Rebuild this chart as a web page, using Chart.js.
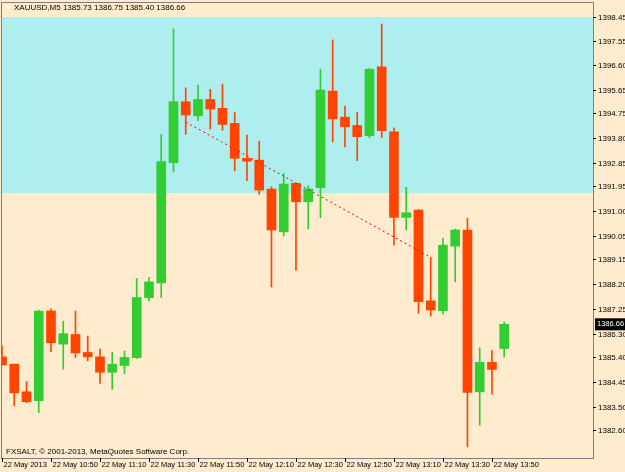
<!DOCTYPE html>
<html>
<head>
<meta charset="utf-8">
<script src="https://cdn.jsdelivr.net/npm/chart.js@4"></script>
<style>
  html, body { margin: 0; padding: 0; background: #FFEBCD; }
  #wrap { width: 625px; height: 472px; }
</style>
</head>
<body>
<div id="wrap"><canvas id="c" width="625" height="472"></canvas></div>
<script>
// ---------------- Data (XAUUSD M5, 22 May 2013, 10:30 .. 13:55) ----------------
const times = ["10:30","10:35","10:40","10:45","10:50","10:55","11:00","11:05","11:10","11:15",
  "11:20","11:25","11:30","11:35","11:40","11:45","11:50","11:55","12:00","12:05",
  "12:10","12:15","12:20","12:25","12:30","12:35","12:40","12:45","12:50","12:55",
  "13:00","13:05","13:10","13:15","13:20","13:25","13:30","13:35","13:40","13:45",
  "13:50","13:55"];
const opens  = [1385.41,1385.13,1384.07,1383.73,1387.17,1385.90,1386.27,1385.58,1385.41,1384.82,
  1385.08,1385.38,1387.68,1388.25,1392.86,1395.20,1394.66,1395.29,1394.95,1394.37,
  1393.03,1392.96,1391.85,1390.21,1392.07,1391.36,1391.90,1395.61,1394.61,1394.29,
  1393.90,1396.54,1394.05,1390.76,1391.04,1387.56,1387.18,1389.66,1390.28,1384.07,
  1385.20,1385.73];
const highs  = [1385.83,1385.13,1384.46,1387.20,1387.25,1386.78,1387.17,1386.21,1385.71,1385.58,
  1385.63,1388.42,1388.46,1393.95,1397.99,1395.74,1395.84,1395.68,1395.88,1394.79,
  1393.92,1393.69,1391.94,1392.45,1392.08,1391.97,1396.45,1397.57,1395.03,1394.79,
  1396.48,1398.18,1394.20,1391.92,1391.06,1389.23,1389.97,1390.32,1390.73,1385.76,
  1385.65,1386.75];
const lows   = [1385.10,1383.53,1383.65,1383.27,1385.61,1384.94,1385.38,1385.26,1384.39,1384.16,
  1384.76,1385.35,1387.55,1387.69,1392.51,1393.95,1394.47,1394.15,1394.11,1392.55,
  1392.17,1391.65,1388.09,1390.05,1388.74,1390.32,1390.75,1393.66,1393.47,1392.94,
  1393.82,1393.83,1389.70,1390.28,1387.08,1386.98,1387.05,1388.29,1381.96,1382.79,
  1383.98,1385.40];
const closes = [1385.10,1384.03,1383.69,1387.17,1385.95,1386.30,1385.56,1385.41,1384.82,1385.13,
  1385.39,1387.69,1388.29,1392.90,1395.20,1394.69,1395.29,1394.92,1394.33,1393.03,
  1392.92,1391.81,1390.28,1392.04,1391.36,1391.85,1395.65,1394.54,1394.24,1393.86,
  1396.45,1394.09,1390.76,1390.94,1387.53,1387.21,1389.70,1390.28,1384.05,1385.20,
  1384.93,1386.66];
const priceTicks = [1398.45,1397.55,1396.60,1395.65,1394.75,1393.80,1392.85,1391.95,1391.00,
  1390.05,1389.15,1388.20,1387.25,1386.30,1385.40,1384.45,1383.50,1382.60];
const timeLabels = ["22 May 2013","22 May 10:50","22 May 11:10","22 May 11:30","22 May 11:50",
  "22 May 12:10","22 May 12:30","22 May 12:50","22 May 13:10","22 May 13:30","22 May 13:50"];
const bandTop = 1398.45, bandBottom = 1391.70;
const trendFrom = [15, 1394.42], trendTo = [35, 1389.23];
const lastPrice = 1386.66;

const GREEN = "#32CD32", RED = "#FF4500";
const colors = opens.map((o, i) => closes[i] >= o ? GREEN : RED);
const FONT = "8px 'Liberation Sans'";

// ---------------- Helpers ----------------
const chartBg = {
  id: "chartBg",
  beforeDraw(chart) {
    const { ctx, chartArea: a, scales: { y } } = chart;
    ctx.save();
    ctx.fillStyle = "#FFEBCD";
    ctx.fillRect(0, 0, chart.width, chart.height);
    ctx.fillStyle = "#AFEEEE";
    const t = y.getPixelForValue(bandTop), b = y.getPixelForValue(bandBottom);
    ctx.fillRect(a.left, t, a.right - a.left, b - t);
    ctx.restore();
  },
  afterDraw(chart) {
    const { ctx, chartArea: a, scales: { x, y } } = chart;
    ctx.save();
    // trend line
    ctx.strokeStyle = "#FF0000";
    ctx.setLineDash([2, 3]);
    ctx.lineWidth = 1;
    ctx.beginPath();
    ctx.moveTo(x.getPixelForValue(trendFrom[0]), y.getPixelForValue(trendFrom[1]));
    ctx.lineTo(x.getPixelForValue(trendTo[0]), y.getPixelForValue(trendTo[1]));
    ctx.stroke();
    ctx.setLineDash([]);
    // frame
    ctx.strokeStyle = "#7F7F7F";
    ctx.strokeRect(a.left - 0.5, a.top - 0.5, a.right - a.left + 1, a.bottom - a.top + 1);
    // right axis ticks
    ctx.fillStyle = "#000";
    ctx.strokeStyle = "#000";
    ctx.font = FONT;
    ctx.textBaseline = "middle";
    priceTicks.forEach(p => {
      const py = Math.round(y.getPixelForValue(p)) + 0.5;
      ctx.beginPath(); ctx.moveTo(a.right, py); ctx.lineTo(a.right + 3, py); ctx.stroke();
      ctx.fillText(p.toFixed(2), a.right + 5, py);
    });
    // last price box
    const ly = y.getPixelForValue(lastPrice);
    ctx.fillRect(a.right + 2, ly - 6, 30, 12);
    ctx.fillStyle = "#fff";
    ctx.font = "7.5px 'Liberation Sans'";
    ctx.fillText(lastPrice.toFixed(2), a.right + 4, ly);
    // time axis
    ctx.fillStyle = "#000";
    ctx.textBaseline = "top";
    timeLabels.forEach((t, k) => {
      const px = Math.round(x.getPixelForValue(k * 4)) + 0.5;
      ctx.beginPath(); ctx.moveTo(px, a.bottom); ctx.lineTo(px, a.bottom + 4); ctx.stroke();
      ctx.fillText(t, px + 1, a.bottom + 3);
    });
    // texts
    ctx.font = FONT;
    ctx.textBaseline = "middle";
    ctx.fillText("XAUUSD,M5 1385.73 1386.75 1385.40 1386.66", 14, 8);
    ctx.fillStyle = "#fff";
    ctx.beginPath(); ctx.moveTo(5, 6); ctx.lineTo(11, 6); ctx.lineTo(8, 9); ctx.fill();
    ctx.fillStyle = "#000";
    ctx.fillText("FXSALT, © 2001-2013, MetaQuotes Software Corp.", 6, 452);
    ctx.restore();
  }
};

// ---------------- Chart ----------------
new Chart(document.getElementById("c"), {
  type: "bar",
  data: {
    datasets: [
      {
        label: "wick",
        data: times.map((t, i) => ({ x: i, y: [lows[i], highs[i]] })),
        backgroundColor: colors,
        barThickness: 1,
        grouped: false,
        order: 2
      },
      {
        label: "body",
        data: times.map((t, i) => ({ x: i, y: [opens[i], closes[i]] })),
        backgroundColor: colors,
        borderWidth: 0,
        barThickness: 9,
        minBarLength: 2,
        grouped: false,
        order: 1
      }
    ]
  },
  plugins: [chartBg],
  options: {
    responsive: false,
    animation: false,
    layout: { padding: { left: 2, top: 3, right: 32, bottom: 14 } },
    plugins: { legend: { display: false }, tooltip: { enabled: false } },
    scales: {
      x: { type: "linear", min: 0, max: 48.25, offset: false, display: false },
      y: { min: 1381.53, max: 1398.99, display: false }
    }
  }
});
</script>
</body>
</html>
